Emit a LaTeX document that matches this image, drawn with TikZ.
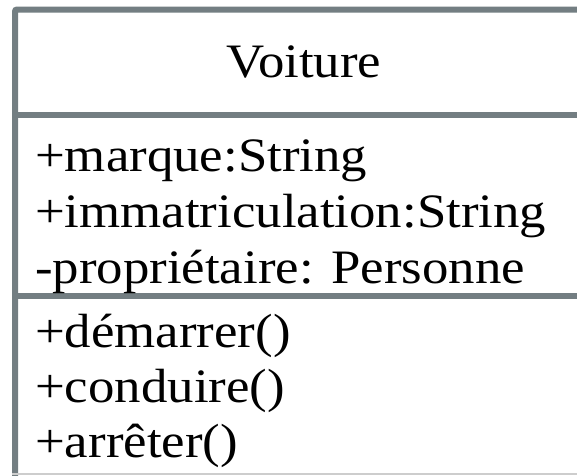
\documentclass[tikz,border=0pt]{standalone}
\usepackage{fontspec}
\setmainfont{Liberation Serif}[FakeStretch=1.1]
\definecolor{umlgray}{RGB}{115,126,130}
\definecolor{edgegray}{RGB}{205,205,205}
\tikzset{
  border/.style={draw=umlgray, line width=6pt},
  member/.style={anchor=base west, inner sep=0pt, font=\fontsize{48}{57}\selectfont},
  title/.style={anchor=base, inner sep=0pt, font=\fontsize{48}{57}\selectfont}
}
\begin{document}
\begin{tikzpicture}[x=1pt,y=1pt]
\useasboundingbox (0,0) rectangle (577,-475);
\begin{scope}
\clip (0,0) rectangle (577,-475);
\fill[white] (0,0) rectangle (577,-475);
\draw[border, rounded corners=2pt] (15,-600) -- (15,-9.5) -- (620,-9.5);
\draw[border] (15,-114.5) -- (620,-114.5);
\draw[border] (15,-296) -- (620,-296);
\draw[edgegray, line width=1.5pt] (12,-474) -- (577,-474);
\end{scope}
\node[title] (title) at (304,-77) {Voiture};
\node[member] (a1) at (35,-171) {+marque:String};
\node[member] (a2) at (35,-227) {+immatriculation:String};
\node[member] (a3) at (35,-283) {-propriétaire: Personne};
\node[member] (m1) at (35,-347) {+démarrer()};
\node[member] (m2) at (35,-402) {+conduire()};
\node[member] (m3) at (35,-457) {+arrêter()};
\end{tikzpicture}
\end{document}
